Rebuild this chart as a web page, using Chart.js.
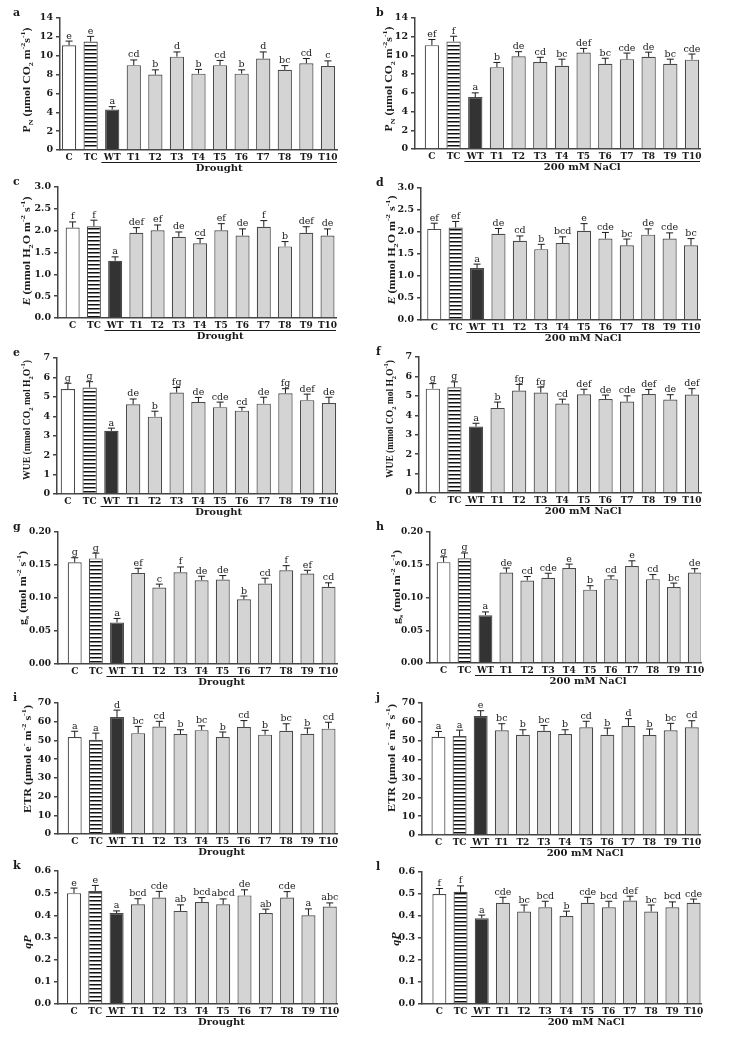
<!DOCTYPE html>
<html>
<head>
<meta charset="utf-8">
<script src="https://cdn.jsdelivr.net/npm/chart.js@4"></script>
<style>
  body { margin: 0; background: #fff; }
  #wrap { position: relative; width: 744px; height: 1039px; overflow: hidden; background: #fff; }
  #wrap canvas { position: absolute; }
</style>
</head>
<body>
<div id="wrap"></div>
<script>
// categories and tick labels
const groups = ['C', 'TC', 'WT', 'T1', 'T2', 'T3', 'T4', 'T5', 'T6', 'T7', 'T8', 'T9', 'T10'];
const pnTicks = ['0', '2', '4', '6', '8', '10', '12', '14'];
const eTicks = ['0.0', '0.5', '1.0', '1.5', '2.0', '2.5', '3.0'];
const wueTicks = ['0', '1', '2', '3', '4', '5', '6', '7'];
const gsTicks = ['0.00', '0.05', '0.10', '0.15', '0.20'];
const etrTicks = ['0', '10', '20', '30', '40', '50', '60', '70'];
const qpTicks = ['0.0', '0.1', '0.2', '0.3', '0.4', '0.5', '0.6'];

// a / b  net photosynthesis
const pnDrought = [11.1, 11.5, 4.3, 9.0, 8.0, 9.9, 8.1, 9.0, 8.1, 9.7, 8.5, 9.2, 8.9];
const pnDroughtErr = [0.45, 0.55, 0.3, 0.55, 0.5, 0.5, 0.45, 0.5, 0.4, 0.7, 0.45, 0.5, 0.55];
const pnDroughtSig = ['e', 'e', 'a', 'cd', 'b', 'd', 'b', 'cd', 'b', 'd', 'bc', 'cd', 'c'];
const pnSalt = [11.1, 11.5, 5.55, 8.75, 9.9, 9.3, 8.9, 10.3, 9.1, 9.6, 9.85, 9.1, 9.55];
const pnSaltErr = [0.6, 0.55, 0.45, 0.5, 0.5, 0.5, 0.7, 0.45, 0.6, 0.65, 0.5, 0.5, 0.6];
const pnSaltSig = ['ef', 'f', 'a', 'b', 'de', 'cd', 'bc', 'def', 'bc', 'cde', 'de', 'bc', 'cde'];

// c / d  transpiration
const eDrought = [2.07, 2.10, 1.31, 1.95, 2.01, 1.86, 1.71, 2.01, 1.89, 2.09, 1.64, 1.95, 1.89];
const eDroughtErr = [0.13, 0.14, 0.09, 0.12, 0.12, 0.11, 0.11, 0.15, 0.15, 0.14, 0.11, 0.14, 0.15];
const eDroughtSig = ['f', 'f', 'a', 'def', 'ef', 'de', 'cd', 'ef', 'de', 'f', 'b', 'def', 'de'];
const eSalt = [2.07, 2.10, 1.18, 1.96, 1.80, 1.61, 1.75, 2.03, 1.85, 1.70, 1.94, 1.85, 1.70];
const eSaltErr = [0.13, 0.14, 0.09, 0.12, 0.11, 0.11, 0.14, 0.16, 0.14, 0.14, 0.13, 0.13, 0.15];
const eSaltSig = ['ef', 'ef', 'a', 'de', 'cd', 'b', 'bcd', 'e', 'cde', 'bc', 'de', 'cde', 'bc'];

// e / f  water use efficiency
const wueDrought = [5.4, 5.48, 3.25, 4.62, 3.98, 5.22, 4.73, 4.47, 4.29, 4.65, 5.18, 4.83, 4.68];
const wueDroughtErr = [0.3, 0.3, 0.14, 0.27, 0.28, 0.26, 0.24, 0.26, 0.17, 0.33, 0.24, 0.31, 0.3];
const wueDroughtSig = ['g', 'g', 'a', 'de', 'b', 'fg', 'de', 'cde', 'cd', 'de', 'fg', 'def', 'de'];
const wueSalt = [5.37, 5.44, 3.42, 4.38, 5.27, 5.17, 4.61, 5.08, 4.84, 4.71, 5.09, 4.81, 5.07];
const wueSaltErr = [0.26, 0.28, 0.17, 0.3, 0.32, 0.28, 0.22, 0.26, 0.2, 0.29, 0.24, 0.25, 0.3];
const wueSaltSig = ['g', 'g', 'a', 'b', 'fg', 'fg', 'cd', 'def', 'de', 'cde', 'def', 'de', 'def'];

// g / h  stomatal conductance
const gsDrought = [0.154, 0.160, 0.063, 0.138, 0.116, 0.139, 0.127, 0.128, 0.098, 0.122, 0.142, 0.137, 0.117];
const gsDroughtErr = [0.007, 0.008, 0.006, 0.007, 0.005, 0.008, 0.006, 0.006, 0.005, 0.008, 0.007, 0.005, 0.006];
const gsDroughtSig = ['g', 'g', 'a', 'ef', 'c', 'f', 'de', 'de', 'b', 'cd', 'f', 'ef', 'cd'];
const gsSalt = [0.154, 0.160, 0.073, 0.138, 0.126, 0.130, 0.145, 0.112, 0.128, 0.148, 0.128, 0.116, 0.138];
const gsSaltErr = [0.008, 0.008, 0.005, 0.007, 0.006, 0.007, 0.006, 0.006, 0.005, 0.008, 0.007, 0.006, 0.006];
const gsSaltSig = ['g', 'g', 'a', 'de', 'cd', 'cde', 'e', 'b', 'cd', 'e', 'cd', 'bc', 'de'];

// i / j  electron transport rate
const etrDrought = [51.8, 50.4, 62.5, 53.9, 57.4, 53.4, 55.5, 51.8, 57.2, 53.1, 55.2, 53.6, 56.3];
const etrDroughtErr = [3.1, 3.5, 3.7, 3.6, 2.8, 2.3, 2.3, 2.7, 3.4, 2.3, 3.7, 3.0, 3.4];
const etrDroughtSig = ['a', 'a', 'd', 'bc', 'cd', 'b', 'bc', 'b', 'cd', 'b', 'bc', 'b', 'cd'];
const etrSalt = [52.1, 52.5, 63.1, 55.5, 53.2, 55.3, 53.5, 57.1, 53.2, 57.8, 53.0, 55.5, 57.1];
const etrSaltErr = [2.8, 3.1, 2.8, 3.5, 2.6, 2.8, 2.3, 3.2, 3.5, 3.9, 3.2, 3.7, 3.5];
const etrSaltSig = ['a', 'a', 'e', 'bc', 'b', 'bc', 'b', 'cd', 'b', 'd', 'b', 'bc', 'cd'];

// k / l  photochemical quenching
const qpDrought = [0.50, 0.51, 0.41, 0.45, 0.48, 0.42, 0.46, 0.45, 0.49, 0.41, 0.48, 0.40, 0.44];
const qpDroughtErr = [0.023, 0.025, 0.01, 0.025, 0.028, 0.027, 0.02, 0.024, 0.025, 0.018, 0.027, 0.029, 0.016];
const qpDroughtSig = ['e', 'e', 'a', 'bcd', 'cde', 'ab', 'bcd', 'abcd', 'de', 'ab', 'cde', 'a', 'abc'];
const qpSalt = [0.50, 0.51, 0.39, 0.46, 0.42, 0.44, 0.40, 0.46, 0.44, 0.47, 0.42, 0.44, 0.46];
const qpSaltErr = [0.025, 0.027, 0.014, 0.025, 0.03, 0.027, 0.022, 0.025, 0.027, 0.02, 0.03, 0.024, 0.017];
const qpSaltSig = ['f', 'f', 'a', 'cde', 'bc', 'bcd', 'b', 'cde', 'bcd', 'def', 'bc', 'bcd', 'cde'];

// axis titles, [text, mode]
const pnTitle = [['P', ''], ['N', 'sub'], [' (\u00b5mol CO', ''], ['2', 'sub'], [' m', ''], ['-2', 'sup'], ['s', ''], ['-1', 'sup'], [')', '']];
const eTitle = [['E', 'i'], [' (mmol H', ''], ['2', 'sub'], ['O m', ''], ['-2', 'sup'], [' s', ''], ['-1', 'sup'], [')', '']];
const wueTitle = [['WUE (mmol CO', ''], ['2', 'sub'], [' mol H', ''], ['2', 'sub'], ['O', ''], ['-1', 'sup'], [')', '']];
const gsTitle = [['g', ''], ['s', 'sub'], [' (mol m', ''], ['-2', 'sup'], [' s', ''], ['-1', 'sup'], [')', '']];
const etrTitle = [['ETR (\u00b5mol e', ''], ['-', 'sup'], [' m', ''], ['-2', 'sup'], [' s', ''], ['-1', 'sup'], [')', '']];
const qpTitle = [['qP', 'i']];

const SERIF = '"DejaVu Serif", serif';
const TIMES = '"Liberation Serif", serif';
const ink = '#1a1a1a';
const axisColor = '#444';

// col, plot area in page px [left, top, right, bottom], x range, title [x, y, length]
const panels = [
  { id: 'a', col: 0, area: [60, 18, 337, 150], xr: [-0.42, 12.42], v: pnDrought, err: pnDroughtErr, sig: pnDroughtSig, ticks: pnTicks, title: pnTitle, tAt: [26, 80, 105], group: 'Drought' },
  { id: 'b', col: 372, area: [415, 18, 700, 149], xr: [-0.78, 12.37], v: pnSalt, err: pnSaltErr, sig: pnSaltSig, ticks: pnTicks, title: pnTitle, tAt: [388, 79, 105], group: '200 mM NaCl' },
  { id: 'c', col: 0, area: [58, 187, 336, 318], xr: [-0.69, 12.4], v: eDrought, err: eDroughtErr, sig: eDroughtSig, ticks: eTicks, title: eTitle, tAt: [26, 251, 118], group: 'Drought' },
  { id: 'd', col: 372, area: [421, 188, 700, 320], xr: [-0.62, 12.42], v: eSalt, err: eSaltErr, sig: eSaltSig, ticks: eTicks, title: eTitle, tAt: [391, 250, 120], group: '200 mM NaCl' },
  { id: 'e', col: 0, area: [57, 358, 337, 494], xr: [-0.5, 12.37], v: wueDrought, err: wueDroughtErr, sig: wueDroughtSig, ticks: wueTicks, title: wueTitle, tAt: [26, 420, 120], group: 'Drought' },
  { id: 'f', col: 372, area: [419, 357, 701, 493], xr: [-0.64, 12.42], v: wueSalt, err: wueSaltErr, sig: wueSaltSig, ticks: wueTicks, title: wueTitle, tAt: [389, 419, 118], group: '200 mM NaCl' },
  { id: 'g', col: 0, area: [58, 532, 337, 664], xr: [-0.79, 12.4], v: gsDrought, err: gsDroughtErr, sig: gsDroughtSig, ticks: gsTicks, title: gsTitle, tAt: [22, 588, 80], group: 'Drought' },
  { id: 'h', col: 372, area: [430, 532, 701, 663], xr: [-0.65, 12.3], v: gsSalt, err: gsSaltErr, sig: gsSaltSig, ticks: gsTicks, title: gsTitle, tAt: [396, 587, 83], group: '200 mM NaCl' },
  { id: 'i', col: 0, area: [58, 703, 337, 834], xr: [-0.79, 12.4], v: etrDrought, err: etrDroughtErr, sig: etrDroughtSig, ticks: etrTicks, title: etrTitle, tAt: [27, 759, 112], group: 'Drought' },
  { id: 'j', col: 372, area: [422, 703, 700, 835], xr: [-0.78, 12.39], v: etrSalt, err: etrSaltErr, sig: etrSaltSig, ticks: etrTicks, title: etrTitle, tAt: [391, 758, 115], group: '200 mM NaCl' },
  { id: 'k', col: 0, area: [58, 871, 337, 1004], xr: [-0.75, 12.34], v: qpDrought, err: qpDroughtErr, sig: qpDroughtSig, ticks: qpTicks, title: qpTitle, tAt: [27, 942, 14], group: 'Drought' },
  { id: 'l', col: 372, area: [422, 872, 701, 1004], xr: [-0.82, 12.35], v: qpSalt, err: qpSaltErr, sig: qpSaltSig, ticks: qpTicks, title: qpTitle, tAt: [395, 939, 14], group: '200 mM NaCl' }
];

function stripes() {
  const c = document.createElement('canvas');
  c.width = 8; c.height = 4;
  const x = c.getContext('2d');
  x.fillStyle = '#fff'; x.fillRect(0, 0, 8, 4);
  x.fillStyle = '#111'; x.fillRect(0, 1, 8, 1);
  x.fillStyle = '#888'; x.fillRect(0, 2, 8, 1);
  return x.createPattern(c, 'repeat');
}
const hatch = stripes();
const fills = groups.map((g, i) => i === 0 ? '#fff' : i === 1 ? hatch : i === 2 ? '#333' : '#d4d4d4');

// rotated axis title with sub/superscripts, squeezed along its length to fit
function drawTitle(ctx, segs, cx, cy, len) {
  const fs = 10.5;
  const font = (s, m) => (m === 'i' ? 'italic bold ' : 'bold ') + s + 'px ' + TIMES;
  const small = m => m === 'sub' || m === 'sup';
  const total = segs.reduce((w, [t, m]) => {
    ctx.font = font(small(m) ? fs * 0.68 : fs, m);
    return w + ctx.measureText(t).width;
  }, 0);
  const sx = Math.min(1.15, len / total);
  ctx.save();
  ctx.translate(cx, cy);
  ctx.rotate(-Math.PI / 2);
  ctx.scale(sx, 1);
  ctx.textAlign = 'left';
  ctx.textBaseline = 'alphabetic';
  ctx.fillStyle = ink;
  let x = -total / 2;
  const base = fs * 0.34;
  segs.forEach(([t, m]) => {
    ctx.font = font(small(m) ? fs * 0.68 : fs, m);
    const dy = m === 'sub' ? fs * 0.28 : m === 'sup' ? -fs * 0.4 : 0;
    ctx.fillText(t, x, base + dy);
    x += ctx.measureText(t).width;
  });
  ctx.restore();
}

function decor(p, canvasTop) {
  return {
    id: 'decor' + p.id,
    afterDatasetsDraw(chart) {
      const ctx = chart.ctx, xs = chart.scales.x, ys = chart.scales.y;
      ctx.save();
      ctx.strokeStyle = ink;
      ctx.fillStyle = ink;
      ctx.lineWidth = 1;
      ctx.font = '9.5px ' + SERIF;
      ctx.textAlign = 'center';
      ctx.textBaseline = 'alphabetic';
      p.v.forEach((v, i) => {
        const x = xs.getPixelForValue(i);
        const y0 = ys.getPixelForValue(v);
        const y1 = ys.getPixelForValue(v + p.err[i]);
        ctx.beginPath();
        ctx.moveTo(x, y0); ctx.lineTo(x, y1);
        ctx.moveTo(x - 3.5, y1); ctx.lineTo(x + 3.5, y1);
        ctx.stroke();
        ctx.fillText(p.sig[i], x, y1 - 2.5);
      });
      ctx.restore();
    },
    afterDraw(chart) {
      const ctx = chart.ctx, xs = chart.scales.x, a = chart.chartArea;
      const step = xs.getPixelForValue(1) - xs.getPixelForValue(0);
      const x0 = xs.getPixelForValue(2) - step / 2, x1 = a.right;
      ctx.save();
      ctx.strokeStyle = ink;
      ctx.lineWidth = 1;
      ctx.beginPath();
      ctx.moveTo(x0, a.bottom + 12.5); ctx.lineTo(x1, a.bottom + 12.5);
      ctx.stroke();
      ctx.fillStyle = ink;
      ctx.font = 'bold 10px ' + SERIF;
      ctx.textAlign = 'center';
      ctx.textBaseline = 'alphabetic';
      ctx.fillText(p.group, (x0 + x1) / 2, a.bottom + 21);
      ctx.font = 'bold 11px ' + SERIF;
      ctx.textAlign = 'left';
      ctx.fillText(p.id, (p.col ? 376 : 13) - p.col, a.top - 2);
      ctx.restore();
      drawTitle(ctx, p.title, p.tAt[0] - p.col, p.tAt[1] - canvasTop, p.tAt[2]);
    }
  };
}

const wrap = document.getElementById('wrap');
panels.forEach(p => {
  const [l, t, r, b] = p.area;
  const topPad = Math.min(20, t);
  const canvasTop = t - topPad;
  const h = b - t + topPad + 30;
  const canvas = document.createElement('canvas');
  canvas.width = 372;
  canvas.height = h;
  canvas.style.left = p.col + 'px';
  canvas.style.top = canvasTop + 'px';
  wrap.appendChild(canvas);
  const tickVals = p.ticks.map(Number);
  const tickSize = p.ticks[1].length > 3 ? 9 : 9.5;

  new Chart(canvas.getContext('2d'), {
    type: 'bar',
    data: {
      datasets: [{
        data: p.v.map((v, i) => ({ x: i, y: v })),
        backgroundColor: fills,
        borderColor: '#4a4a4a',
        borderWidth: 1.2,
        barPercentage: 0.66,
        categoryPercentage: 1
      }]
    },
    options: {
      responsive: false,
      animation: false,
      devicePixelRatio: 1,
      layout: { padding: { top: topPad, right: p.col + 372 - r, bottom: 0, left: 0 } },
      plugins: { legend: { display: false }, tooltip: { enabled: false } },
      scales: {
        x: {
          type: 'linear',
          min: p.xr[0],
          max: p.xr[1],
          offset: false,
          grid: { display: false, drawTicks: false },
          border: { display: true, color: axisColor, width: 1.5 },
          afterBuildTicks: s => { s.ticks = groups.map((g, i) => ({ value: i })); },
          afterFit: s => { s.height = 30; },
          ticks: {
            autoSkip: false,
            maxRotation: 0,
            padding: 2,
            color: ink,
            font: { family: SERIF, size: 9, weight: 'bold' },
            callback: v => groups[v]
          }
        },
        y: {
          min: 0,
          max: tickVals[tickVals.length - 1],
          grid: { drawOnChartArea: false, drawTicks: true, tickLength: 4, color: axisColor, lineWidth: 1.5 },
          border: { display: true, color: axisColor, width: 1.5 },
          afterBuildTicks: s => { s.ticks = tickVals.map(v => ({ value: v })); },
          afterFit: s => { s.width = l - p.col; },
          ticks: {
            padding: 3,
            color: ink,
            font: { family: SERIF, size: tickSize, weight: 'bold' },
            callback: (v, i) => p.ticks[i]
          }
        }
      }
    },
    plugins: [decor(p, canvasTop)]
  });
});
</script>
</body>
</html>
